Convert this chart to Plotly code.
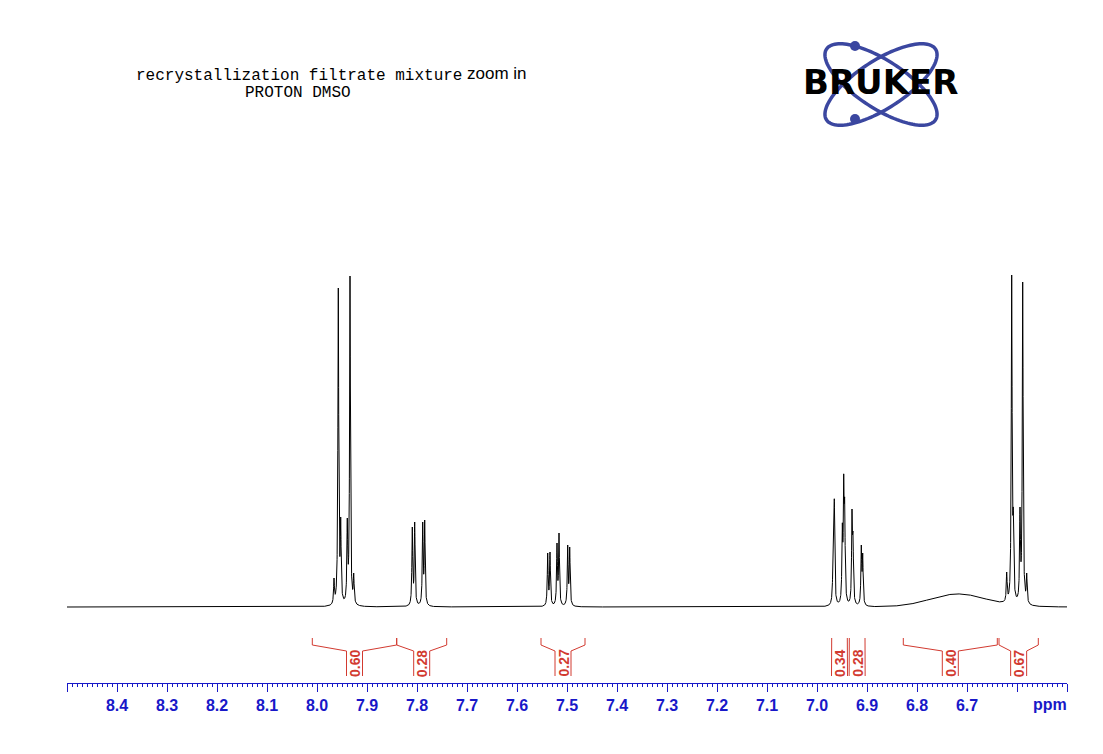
import numpy as np
import plotly.graph_objects as go

# ---------------- data ----------------
# peak positions (ppm) and apparent apex heights (arbitrary intensity units)
peak_ppm = [7.9660, 7.9574, 7.9526, 7.9394, 7.9340, 7.9266,
            7.8094, 7.8046, 7.7886, 7.7846,
            7.5386, 7.5340, 7.5200, 7.5160, 7.4986, 7.4946,
            6.9674, 6.9654, 6.9494, 6.9466, 6.9446, 6.9300, 6.9280, 6.9114, 6.9086,
            6.6206, 6.6106, 6.6074, 6.5940, 6.5886, 6.5806]
peak_height = [29, 319, 90, 89, 331, 34,
               80, 85, 85, 87,
               54, 55, 64, 74, 62, 60,
               90, 108, 84, 133, 109, 98, 75, 62, 54,
               35, 332, 99, 100, 325, 34]
hump_ppm = 6.718        # broad exchangeable signal
hump_height = 13
hump_sigma = 0.055
line_hwhm = 0.001

integral_start = [8.0094, 7.8406, 7.5520, 6.9706, 6.9354, 6.8274, 6.6360]
integral_end = [7.8406, 7.7406, 7.4640, 6.9394, 6.9040, 6.6394, 6.5574]
integral_labels = ["0.60", "0.28", "0.27", "0.34", "0.28", "0.40", "0.67"]

tick_values = [8.5, 8.4, 8.3, 8.2, 8.1, 8.0, 7.9, 7.8, 7.7, 7.6, 7.5, 7.4, 7.3,
               7.2, 7.1, 7.0, 6.9, 6.8, 6.7, 6.6, 6.5]
tick_labels = ["", "8.4", "8.3", "8.2", "8.1", "8.0", "7.9", "7.8", "7.7", "7.6",
               "7.5", "7.4", "7.3", "7.2", "7.1", "7.0", "6.9", "6.8", "6.7", "", ""]

title_line1 = "recrystallization filtrate mixture"
title_suffix = "zoom in"
title_line2 = "PROTON DMSO"

# ---------------- build spectrum from the peak list ----------------
p = np.array(peak_ppm)
h = np.array(peak_height, dtype=float)


def hump(x):
    return hump_height * np.exp(-0.5 * ((x - hump_ppm) / hump_sigma) ** 2)


A = 1.0 / (1.0 + ((p[:, None] - p[None, :]) / line_hwhm) ** 2)
amp = np.clip(np.linalg.solve(A, h - hump(p)), 1, None)

x = np.union1d(np.linspace(6.5, 8.5, 14001), p)[::-1]
y = hump(x) + (amp[None, :] / (1.0 + ((x[:, None] - p[None, :]) / line_hwhm) ** 2)).sum(axis=1)

# ---------------- figure ----------------
OFF = 8                      # page body margin
W, H = 1103 - OFF, 754 - OFF
ML, MR, MT, MB = 59, 36, 142, 71
PW, PH = W - ML - MR, H - MT - MB
BLUE = "#1818c8"
RED = "#d23a30"
LOGO = "#3b47a0"


def px(xp):
    return (xp - OFF - ML) / PW


def py(yp):
    return (H - MB - (yp - OFF)) / PH


fig = go.Figure()
fig.add_trace(go.Scatter(x=x, y=y, mode="lines", line=dict(color="black", width=1),
                         hoverinfo="skip", showlegend=False))

# integral brackets
top, kink, chan, bot = -31, -38, -44, -69
cw = 0.016
ix, iy = [], []
for s, e, lab in zip(integral_start, integral_end, integral_labels):
    c = (s + e) / 2
    ix += [s, s, c + cw, c + cw, None, c - cw, c - cw, e, e, None]
    iy += [top, kink, chan, bot, None, bot, chan, kink, top, None]
    fig.add_annotation(x=c, y=-56.5, text="<b>%s</b>" % lab, textangle=-90, showarrow=False,
                       font=dict(family="Liberation Sans, Arial", size=14, color=RED))
fig.add_trace(go.Scatter(x=ix, y=iy, mode="lines", line=dict(color=RED, width=1),
                         hoverinfo="skip", showlegend=False))

# titles
fig.add_annotation(xref="paper", yref="paper", x=px(134), y=py(76), xanchor="left", yanchor="middle",
                   text=title_line1, showarrow=False,
                   font=dict(family="Liberation Mono, Courier New", size=16, color="black"))
fig.add_annotation(xref="paper", yref="paper", x=px(465), y=py(74), xanchor="left", yanchor="middle",
                   text=title_suffix, showarrow=False,
                   font=dict(family="Liberation Sans, Arial", size=17, color="black"))
fig.add_annotation(xref="paper", yref="paper", x=px(298), y=py(93), xanchor="center", yanchor="middle",
                   text=title_line2, showarrow=False,
                   font=dict(family="Liberation Mono, Courier New", size=16, color="black"))

# ppm label
fig.add_annotation(xref="paper", yref="paper", x=px(1050), y=py(704), xanchor="center", yanchor="middle",
                   text="<b>ppm</b>", showarrow=False,
                   font=dict(family="Liberation Sans, Arial", size=16, color=BLUE))

# Bruker logo (decoration)
cx, cy, a, b = 881, 84.5, 65, 24
t = np.linspace(0, 2 * np.pi, 121)
for ang in (np.deg2rad(33), np.deg2rad(-33)):
    ex = cx + a * np.cos(t) * np.cos(ang) - b * np.sin(t) * np.sin(ang)
    ey = cy + a * np.cos(t) * np.sin(ang) + b * np.sin(t) * np.cos(ang)
    path = "M " + " L ".join("%.5f,%.5f" % (px(u), py(v)) for u, v in zip(ex, ey)) + " Z"
    fig.add_shape(type="path", path=path, xref="paper", yref="paper",
                  line=dict(color=LOGO, width=3.5))
for dx, dy in ((855, 46), (855, 119)):
    fig.add_shape(type="circle", xref="paper", yref="paper",
                  x0=px(dx - 5), x1=px(dx + 5), y0=py(dy + 5), y1=py(dy - 5),
                  fillcolor=LOGO, line=dict(color=LOGO, width=0))
fig.add_annotation(xref="paper", yref="paper", x=px(880), y=py(82), xanchor="center", yanchor="middle",
                   text="<b>BRUKER</b>", showarrow=False,
                   font=dict(family="DejaVu Sans", size=34, color="black"))

fig.update_layout(
    width=W, height=H,
    margin=dict(l=ML, r=MR, t=MT, b=MB),
    paper_bgcolor="white", plot_bgcolor="white",
    showlegend=False,
    xaxis=dict(range=[8.5, 6.5], tickmode="array", tickvals=tick_values, ticktext=tick_labels,
               ticks="outside", ticklen=8, tickwidth=1, tickcolor=BLUE,
               showline=True, linecolor=BLUE, linewidth=1, showgrid=False, zeroline=False,
               tickfont=dict(family="Liberation Sans, Arial", size=16, color=BLUE, weight="bold"),
               minor=dict(ticks="outside", ticklen=3, tick0=6.5, dtick=0.01, tickcolor=BLUE, showgrid=False)),
    yaxis=dict(range=[-76, 457], visible=False),
)

fig.write_html("out.html")
